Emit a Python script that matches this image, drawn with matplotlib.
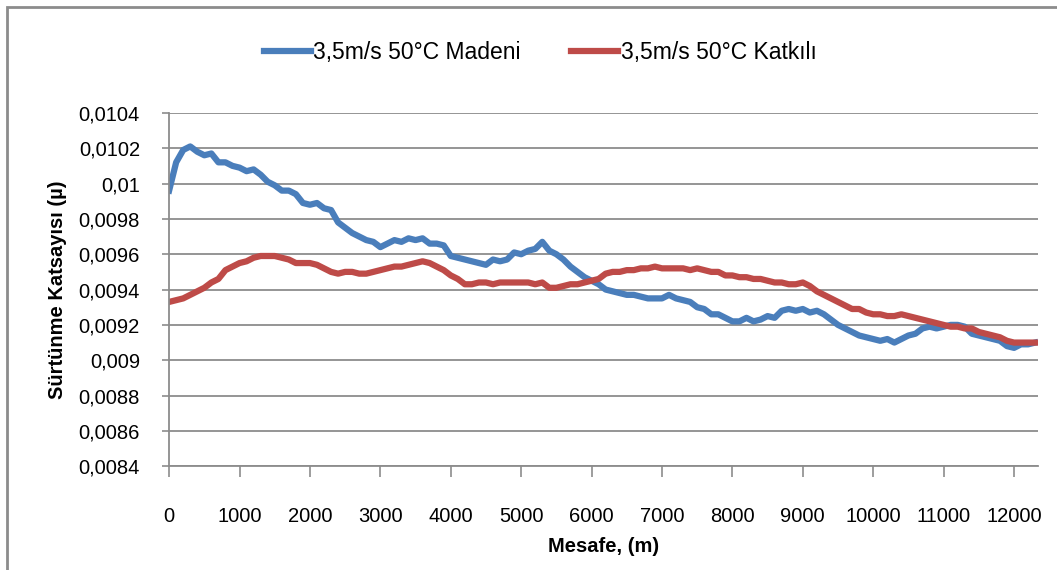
import matplotlib
matplotlib.use("Agg")
import matplotlib.pyplot as plt
from matplotlib.patches import Rectangle
from matplotlib.ticker import FuncFormatter, MultipleLocator

# ---------------------------------------------
# Data (every 100 m)
# ---------------------------------------------
distance = list(range(0, 12400, 100))

madeni = [
    0.00996, 0.01012, 0.01019, 0.01021, 0.01018, 0.01016, 0.01017, 0.01012, 0.01012, 0.01010,
    0.01009, 0.01007, 0.01008, 0.01005, 0.01001, 0.00999, 0.00996, 0.00996, 0.00994, 0.00989,
    0.00988, 0.00989, 0.00986, 0.00985, 0.00978, 0.00975, 0.00972, 0.00970, 0.00968, 0.00967,
    0.00964, 0.00966, 0.00968, 0.00967, 0.00969, 0.00968, 0.00969, 0.00966, 0.00966, 0.00965,
    0.00959, 0.00958, 0.00957, 0.00956, 0.00955, 0.00954, 0.00957, 0.00956, 0.00957, 0.00961,
    0.00960, 0.00962, 0.00963, 0.00967, 0.00962, 0.00960, 0.00957, 0.00953, 0.00950, 0.00947,
    0.00945, 0.00943, 0.00940, 0.00939, 0.00938, 0.00937, 0.00937, 0.00936, 0.00935, 0.00935,
    0.00935, 0.00937, 0.00935, 0.00934, 0.00933, 0.00930, 0.00929, 0.00926, 0.00926, 0.00924,
    0.00922, 0.00922, 0.00924, 0.00922, 0.00923, 0.00925, 0.00924, 0.00928, 0.00929, 0.00928,
    0.00929, 0.00927, 0.00928, 0.00926, 0.00923, 0.00920, 0.00918, 0.00916, 0.00914, 0.00913,
    0.00912, 0.00911, 0.00912, 0.00910, 0.00912, 0.00914, 0.00915, 0.00918, 0.00919, 0.00918,
    0.00919, 0.00920, 0.00920, 0.00919, 0.00915, 0.00914, 0.00913, 0.00912, 0.00911, 0.00908,
    0.00907, 0.00909, 0.00909, 0.00910,
]

katkili = [
    0.00933, 0.00934, 0.00935, 0.00937, 0.00939, 0.00941, 0.00944, 0.00946, 0.00951, 0.00953,
    0.00955, 0.00956, 0.00958, 0.00959, 0.00959, 0.00959, 0.00958, 0.00957, 0.00955, 0.00955,
    0.00955, 0.00954, 0.00952, 0.00950, 0.00949, 0.00950, 0.00950, 0.00949, 0.00949, 0.00950,
    0.00951, 0.00952, 0.00953, 0.00953, 0.00954, 0.00955, 0.00956, 0.00955, 0.00953, 0.00951,
    0.00948, 0.00946, 0.00943, 0.00943, 0.00944, 0.00944, 0.00943, 0.00944, 0.00944, 0.00944,
    0.00944, 0.00944, 0.00943, 0.00944, 0.00941, 0.00941, 0.00942, 0.00943, 0.00943, 0.00944,
    0.00945, 0.00946, 0.00949, 0.00950, 0.00950, 0.00951, 0.00951, 0.00952, 0.00952, 0.00953,
    0.00952, 0.00952, 0.00952, 0.00952, 0.00951, 0.00952, 0.00951, 0.00950, 0.00950, 0.00948,
    0.00948, 0.00947, 0.00947, 0.00946, 0.00946, 0.00945, 0.00944, 0.00944, 0.00943, 0.00943,
    0.00944, 0.00942, 0.00939, 0.00937, 0.00935, 0.00933, 0.00931, 0.00929, 0.00929, 0.00927,
    0.00926, 0.00926, 0.00925, 0.00925, 0.00926, 0.00925, 0.00924, 0.00923, 0.00922, 0.00921,
    0.00920, 0.00919, 0.00919, 0.00918, 0.00918, 0.00916, 0.00915, 0.00914, 0.00913, 0.00911,
    0.00910, 0.00910, 0.00910, 0.00910,
]

labels = ["3,5m/s 50°C Madeni", "3,5m/s 50°C Katkılı"]
colors = ["#4A7EBB", "#BE4B48"]

# ---------------------------------------------
# Figure
# ---------------------------------------------
plt.rcParams["font.family"] = ["Liberation Sans", "DejaVu Sans"]

fig = plt.figure(figsize=(10.57, 5.70), dpi=100)
ax = fig.add_axes([0.160, 0.182, 0.822, 0.620])

ax.plot(distance, madeni, color=colors[0], lw=4.5, label=labels[0])
ax.plot(distance, katkili, color=colors[1], lw=4.5, label=labels[1])

ax.set_xlim(0, 12340)
ax.set_ylim(0.0084, 0.0104)
ax.xaxis.set_major_locator(MultipleLocator(1000))
ax.yaxis.set_major_locator(MultipleLocator(0.0002))


def comma_fmt(v, pos):
    s = f"{v:.4f}".rstrip("0")
    return s.replace(".", ",")


ax.yaxis.set_major_formatter(FuncFormatter(comma_fmt))

ax.grid(axis="y", color="#8c8c8c", lw=1.3)
ax.set_axisbelow(True)
for side in ["top", "right"]:
    ax.spines[side].set_visible(False)
for side in ["left", "bottom"]:
    ax.spines[side].set_color("#8c8c8c")
    ax.spines[side].set_linewidth(1.3)

ax.tick_params(axis="x", direction="out", length=8, width=1.2, color="#8c8c8c",
               pad=21, labelsize=14.5)
ax.tick_params(axis="y", direction="out", length=5, width=1.2, color="#8c8c8c",
               pad=16, labelsize=14.5)

ax.set_xlabel("Mesafe, (m)", fontsize=14.5, fontweight="bold", labelpad=8)
ax.set_ylabel("Sürtünme Katsayısı (µ)", fontsize=14.5, fontweight="bold", labelpad=8)

fig.legend(loc="center", bbox_to_anchor=(0.511, 0.908), ncol=2, frameon=False,
           fontsize=16.5, handlelength=2.05, columnspacing=2.2, handletextpad=0.12)

# outer chart border
fig.patches.append(Rectangle((7 / 1057, -0.1), 1.2, 1.1 - 7 / 570,
                             transform=fig.transFigure, fill=False,
                             edgecolor="#8c8c8c", lw=2))

fig.savefig("out.png", dpi=100)
